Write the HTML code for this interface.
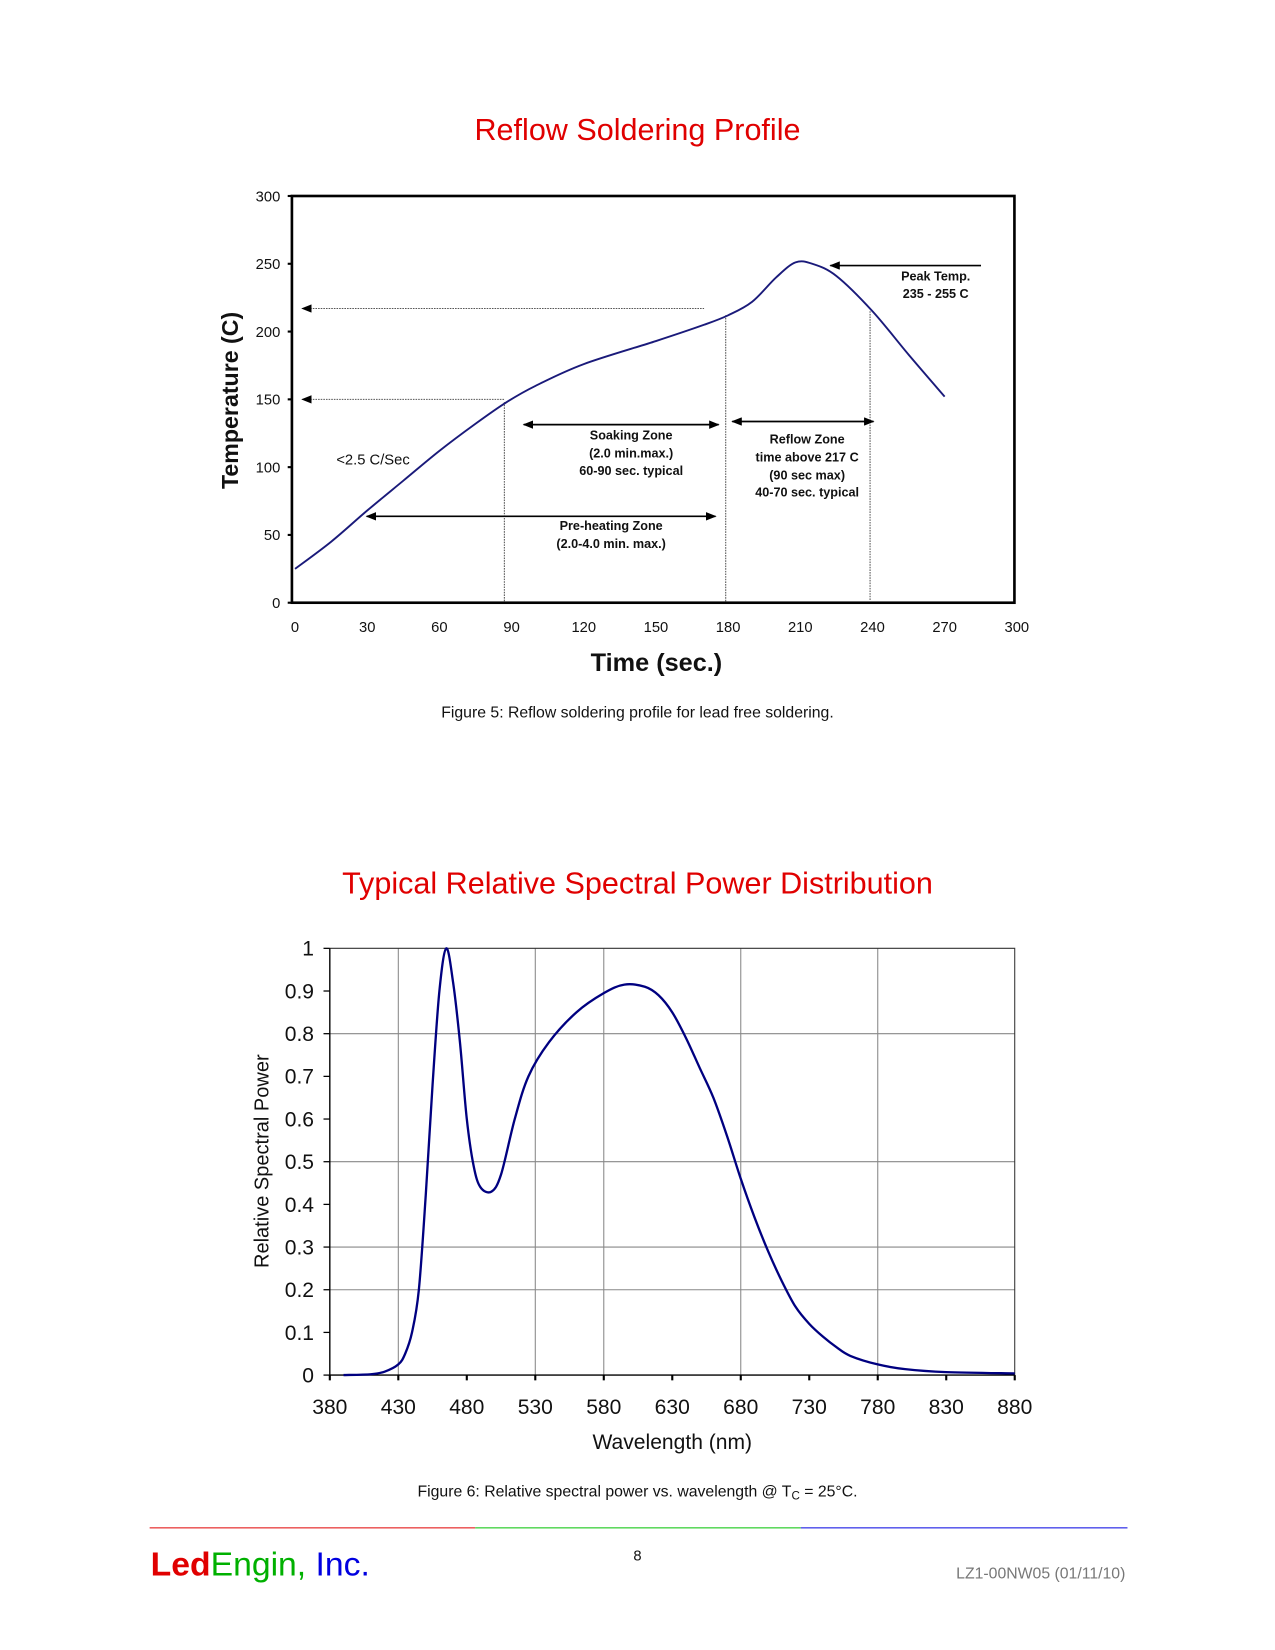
<!DOCTYPE html>
<html><head><meta charset="utf-8"><style>
html,body{margin:0;padding:0;background:#fff}
svg{display:block;font-family:"Liberation Sans",Arial,sans-serif}
</style></head><body>
<svg id="pg" width="1275" height="1650" viewBox="0 0 1210 1565.9" xmlns="http://www.w3.org/2000/svg">
<defs>
<marker id="ah" markerWidth="10" markerHeight="8" refX="9" refY="4" orient="auto-start-reverse" markerUnits="userSpaceOnUse"><path d="M0,0 L10,4 L0,8 z" fill="#000"/></marker>
</defs>
<text x="605" y="133" text-anchor="middle" font-size="29" fill="#e00000">Reflow Soldering Profile</text>
<g id="reflow"></g>
<text x="605" y="681" text-anchor="middle" font-size="15" fill="#111">Figure 5:  Reflow soldering profile for lead free soldering.</text>
<text x="605" y="848" text-anchor="middle" font-size="29" fill="#e00000">Typical Relative Spectral Power Distribution</text>
<g id="spec"></g>
<text x="605" y="1420" text-anchor="middle" font-size="15" fill="#111">Figure 6:  Relative spectral power vs. wavelength @ T<tspan font-size="11" dy="3">C</tspan><tspan dy="-3"> = 25°C.</tspan></text>
<line x1="142" y1="1450" x2="451" y2="1450" stroke="#e00000" stroke-width="1"/>
<line x1="451" y1="1450" x2="760" y2="1450" stroke="#00c000" stroke-width="1"/>
<line x1="760" y1="1450" x2="1070" y2="1450" stroke="#0000e0" stroke-width="1"/>
<text x="143" y="1495" font-size="32"><tspan fill="#e00000" font-weight="bold">Led</tspan><tspan fill="#00b000">Engin,</tspan><tspan fill="#0000e0"> Inc.</tspan></text>
<text x="605" y="1481" text-anchor="middle" font-size="14" fill="#111">8</text>
<text x="1068" y="1498" text-anchor="end" font-size="15" fill="#777">LZ1-00NW05 (01/11/10)</text>
</svg>
<script>
// Reflow chart data
const reflowTime = [0,15,30,45,60,75,88,100,120,150,170,180,190,200,208,215,225,240,255,270];
const reflowTemp = [25,45,68,90,112,132,148,160,176,193,205,212,222,240,251,250,241,215,183,152];
const reflowXTicks = [0,30,60,90,120,150,180,210,240,270,300];
const reflowYTicks = [0,50,100,150,200,250,300];
// Spectral chart data
const specNm = [390,410,420,430,435,440,445,450,455,460,465,470,475,480,485,490,498,505,515,525,540,560,580,595,610,620,630,640,650,660,670,680,690,700,710,720,730,740,750,760,780,800,830,880];
const specVal = [0,0.002,0.008,0.025,0.05,0.1,0.2,0.42,0.68,0.9,1.0,0.92,0.78,0.6,0.49,0.44,0.43,0.47,0.6,0.7,0.78,0.85,0.895,0.915,0.91,0.89,0.85,0.79,0.72,0.65,0.56,0.46,0.37,0.29,0.22,0.16,0.12,0.09,0.065,0.045,0.025,0.014,0.007,0.004];
const specXTicks = [380,430,480,530,580,630,680,730,780,830,880];
const specYTicks = [0,0.1,0.2,0.3,0.4,0.5,0.6,0.7,0.8,0.9,1];
const specYGrid = [0.2,0.3,0.5,0.8];
const specXGrid = [430,530,580,680,780];

const NS='http://www.w3.org/2000/svg';
function mk(parent,tag,attrs,text){const e=document.createElementNS(NS,tag);for(const k in attrs)e.setAttribute(k,attrs[k]);if(text!==undefined)e.textContent=text;parent.appendChild(e);return e;}

// ---- Reflow
(function(){
const g=document.getElementById('reflow');
const rx=t=>280+t*(965-280)/300, ry=v=>572-v*(572-186)/300;
let e=mk(g,'rect',{x:rx(-1.3),y:ry(300),width:rx(299)-rx(-1.3),height:ry(0)-ry(300),fill:'none',stroke:'#000','stroke-width':2.5});


reflowYTicks.forEach(v=>{
 let t=mk(g,'text',{x:266,y:ry(v)+5,'text-anchor':'end','font-size':14,fill:'#111'},String(v));
 
 
 let l=mk(g,'line',{x1:rx(-1.3)-4,x2:rx(-1.3),y1:ry(v),y2:ry(v),stroke:'#000','stroke-width':2});
 
 
});
reflowXTicks.forEach(v=>{
 let t=mk(g,'text',{x:rx(v),y:600,'text-anchor':'middle','font-size':14,fill:'#111'},String(v));
 
 
});
// dotted guides
const dl=(x1,y1,x2,y2,name,arrow)=>{let l=mk(g,'line',{x1,y1,x2,y2,stroke:'#555','stroke-width':1,'stroke-dasharray':'1.5 1'});if(arrow)l.setAttribute('marker-start','url(#ah)');
 
 };
dl(rx(3),ry(217),rx(170),ry(217),'guide-217c',true);
dl(rx(3),ry(150),rx(87),ry(150),'guide-150c',true);
dl(rx(87),ry(148),rx(87),ry(1),'guide-90s');
dl(rx(179),ry(212),rx(179),ry(1),'guide-180s');
dl(rx(239),ry(215),rx(239),ry(2),'guide-240s');
// arrows
const ar=(x1,y,x2,name,both)=>{let l=mk(g,'line',{x1,y1:y,x2,y2:y,stroke:'#000','stroke-width':1.6,'marker-end':'url(#ah)'});if(both)l.setAttribute('marker-start','url(#ah)');
 
 };
ar(497,403,682,'soaking-zone-arrow',true);
ar(695,400,829,'reflow-zone-arrow',true);
ar(348,490,679,'preheating-zone-arrow',true);
ar(931,252,788,'peak-temp-arrow',false);
// curve
let d=reflowTime.map((t,i)=>[rx(t),ry(reflowTemp[i])]);
let p='M'+d[0][0]+','+d[0][1];
for(let i=0;i<d.length-1;i++){const p0=d[i-1]||d[i],p1=d[i],p2=d[i+1],p3=d[i+2]||p2;
 p+=` C${p1[0]+(p2[0]-p0[0])/6},${p1[1]+(p2[1]-p0[1])/6} ${p2[0]-(p3[0]-p1[0])/6},${p2[1]-(p3[1]-p1[1])/6} ${p2[0]},${p2[1]}`;}
e=mk(g,'path',{d:p,fill:'none',stroke:'#1a1a7a','stroke-width':1.8});


const lbl=(x,y,s,name,bold,sz)=>{let t=mk(g,'text',{x,y,'text-anchor':'middle','font-size':sz||12,'font-weight':bold?'bold':'normal',fill:'#111'},s);
 
 };
lbl(354,441,'<2.5 C/Sec','ramp-rate-label',false,14);
lbl(599,417,'Soaking Zone','soaking-zone-label',true);
lbl(599,434,'(2.0 min.max.)','soaking-zone-label',true);
lbl(599,451,'60-90 sec. typical','soaking-zone-label',true);
lbl(766,421,'Reflow Zone','reflow-zone-label',true);
lbl(766,438,'time above 217 C','reflow-zone-label',true);
lbl(766,455,'(90 sec max)','reflow-zone-label',true);
lbl(766,471,'40-70 sec. typical','reflow-zone-label',true);
lbl(580,503,'Pre-heating Zone','preheating-zone-label',true);
lbl(580,520,'(2.0-4.0 min. max.)','preheating-zone-label',true);
lbl(888,266,'Peak Temp.','peak-temp-label',true);
lbl(888,283,'235 - 255 C','peak-temp-label',true);
let t=mk(g,'text',{x:623,y:637,'text-anchor':'middle','font-size':24,'font-weight':'bold',fill:'#111'},'Time (sec.)');


t=mk(g,'text',{x:0,y:0,transform:'translate(226,380) rotate(-90)','text-anchor':'middle','font-size':22,'font-weight':'bold',fill:'#111'},'Temperature (C)');


})();

// ---- Spectral
(function(){
const g=document.getElementById('spec');
const sx=n=>313+(n-380)*(963-313)/500, sy=v=>1305-v*(1305-900);
specYGrid.forEach(v=>{let l=mk(g,'line',{x1:sx(380),x2:sx(880),y1:sy(v),y2:sy(v),stroke:'#888','stroke-width':1});
 
 });
specXGrid.forEach(n=>{let l=mk(g,'line',{x1:sx(n),x2:sx(n),y1:sy(0),y2:sy(1),stroke:'#888','stroke-width':1});
 
 });
let e=mk(g,'path',{d:`M${sx(380)},${sy(1)} H${sx(880)} V${sy(0)}`,fill:'none',stroke:'#333','stroke-width':1});


e=mk(g,'path',{d:`M${sx(380)},${sy(1)} V${sy(0)} H${sx(880)}`,fill:'none',stroke:'#000','stroke-width':1.3});


specYTicks.forEach(v=>{
 let l=mk(g,'line',{x1:sx(380)-6,x2:sx(380),y1:sy(v),y2:sy(v),stroke:'#000','stroke-width':1.2});
 
 
 let t=mk(g,'text',{x:298,y:sy(v)+7,'text-anchor':'end','font-size':20,fill:'#111'},String(v));
 
 
});
specXTicks.forEach(n=>{
 let l=mk(g,'line',{x1:sx(n),x2:sx(n),y1:sy(0),y2:sy(0)+5,stroke:'#000','stroke-width':2});
 
 
 let t=mk(g,'text',{x:sx(n),y:1342,'text-anchor':'middle','font-size':20,fill:'#111'},String(n));
 
 
});
let d=specNm.map((n,i)=>[sx(n),sy(specVal[i])]);
let p='M'+d[0][0]+','+d[0][1];
for(let i=0;i<d.length-1;i++){const p0=d[i-1]||d[i],p1=d[i],p2=d[i+1],p3=d[i+2]||p2;
 p+=` C${p1[0]+(p2[0]-p0[0])/6},${p1[1]+(p2[1]-p0[1])/6} ${p2[0]-(p3[0]-p1[0])/6},${p2[1]-(p3[1]-p1[1])/6} ${p2[0]},${p2[1]}`;}
e=mk(g,'path',{d:p,fill:'none',stroke:'#000080','stroke-width':2.2});


let t=mk(g,'text',{x:638,y:1375,'text-anchor':'middle','font-size':20,fill:'#111'},'Wavelength (nm)');


t=mk(g,'text',{x:0,y:0,transform:'translate(255,1102) rotate(-90)','text-anchor':'middle','font-size':19,fill:'#111'},'Relative Spectral Power');


})();
</script>
</body></html>
